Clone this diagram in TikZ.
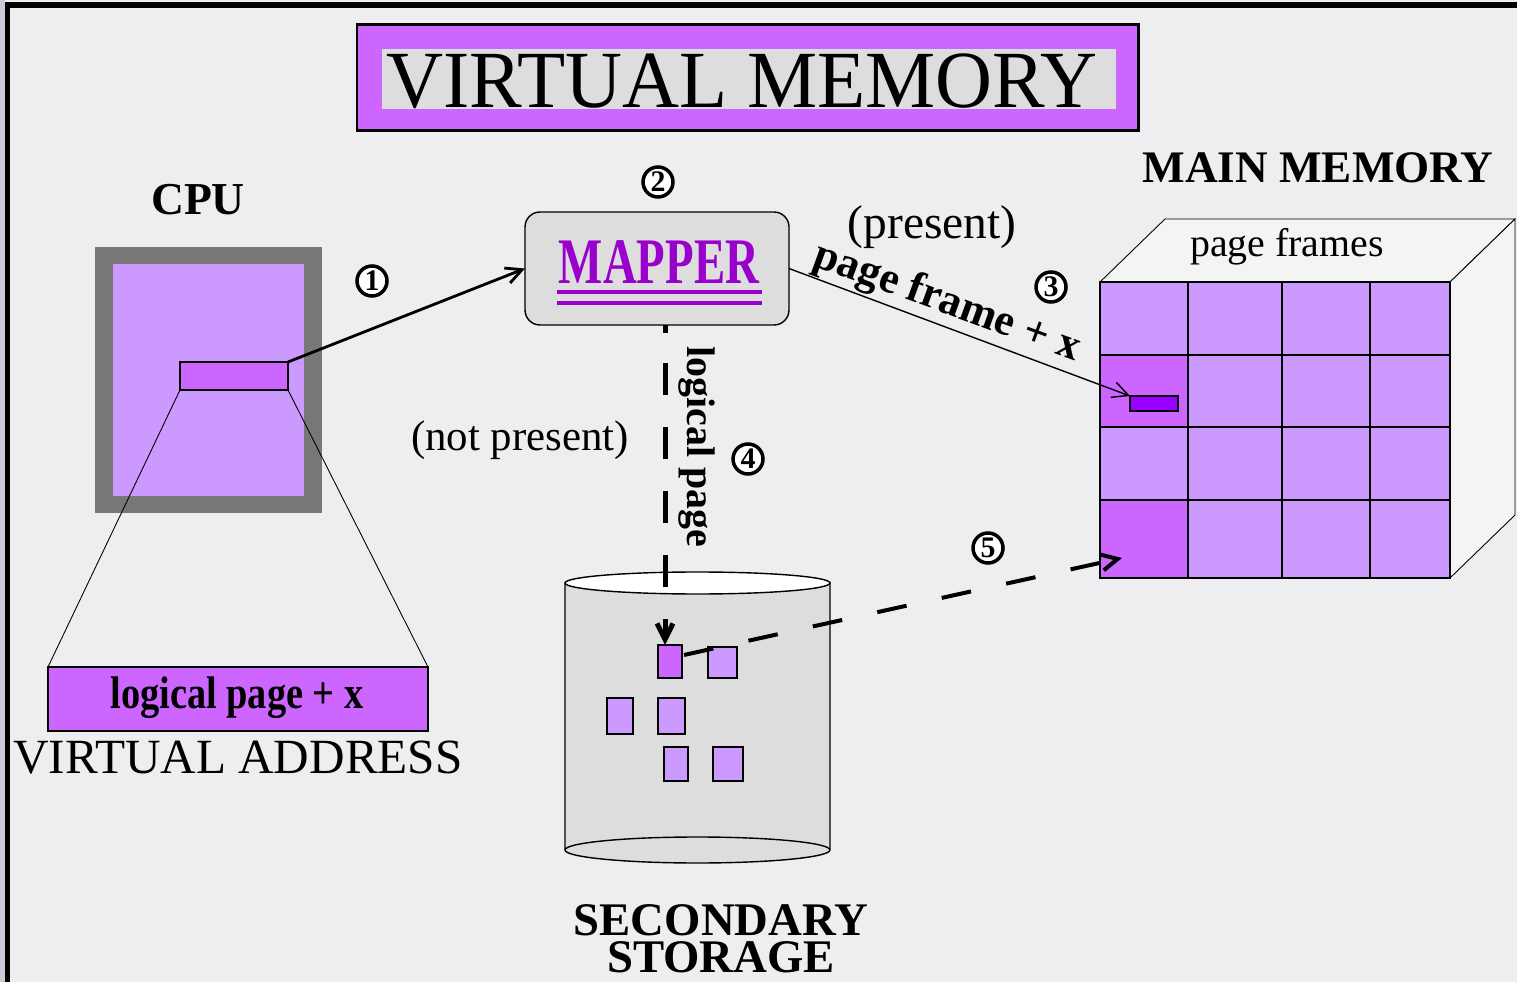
\documentclass[tikz,border=0pt]{standalone}
\usepackage{fontspec}
\usepackage{graphicx}
\setmainfont{Liberation Serif}
\usetikzlibrary{arrows.meta,fit,calc}
\definecolor{bg}{HTML}{EEEEF0}
\definecolor{pdark}{HTML}{CC66FF}
\definecolor{plight}{HTML}{CC99FF}
\definecolor{pdeep}{HTML}{9900FF}
\definecolor{ptext}{HTML}{9900CC}
\definecolor{boxgray}{HTML}{DDDDDD}
\definecolor{cpugray}{HTML}{777777}
\definecolor{sidebar}{HTML}{C8CCD8}
\definecolor{faceclr}{HTML}{F4F4F5}
\newcommand\myfs[1]{\fontsize{#1}{#1}\selectfont}
\tikzset{
  box/.style={inner sep=0pt, outer sep=0pt},
  num/.style={circle, draw, line width=2pt, fill=white, inner sep=0pt, minimum size=0.6cm, font=\bfseries\myfs{17}},
  arr/.style={-{Straight Barb[length=0.32cm,width=0.32cm]}},
  cell/.style={box, draw, line width=1pt, fill=plight},
  page/.style={box, draw, line width=1pt, fill=plight},
}
\begin{document}
\begin{tikzpicture}[x=0.02cm,y=-0.02cm]
\useasboundingbox (0,0) rectangle (1517,982);
\fill[bg] (0,0) rectangle (1517,982);
\fill[sidebar] (0,0) rectangle (5,982);
\fill[black] (5,2) rectangle (1517,8);
\fill[black] (5,2) rectangle (10,982);

% title
\node[box, fit={(357,25)(1138,131)}, draw, line width=1.7pt, fill=pdark] (titlebox) {};
\node[box, fit={(382,49)(1116,109)}, fill=boxgray] (titleband) {};
\node[font=\myfs{44}] (title) at (742,81) {\scalebox{1.02}[1.05]{VIRTUAL MEMORY}};

% CPU
\node[font=\bfseries\myfs{26}] (cpulabel) at (198,200) {CPU};
\node[box, fit={(95,247)(322,513)}, fill=cpugray] (cpu) {};
\node[box, fit={(113,264)(304,496)}, fill=plight] (cpuin) {};
\node[box, fit={(180,362)(288,390)}, fill=pdark, draw, line width=1pt] (reg) {};

% logical page + x
\node[box, fit={(48,667)(428,731)}, fill=pdark, draw, line width=1pt] (lpage) {};
\node[font=\bfseries\myfs{26}] (lpagetext) at (237,698) {\scalebox{0.84}[1]{logical page + x}};
\node[font=\myfs{28}] (vaddr) at (238,758) {VIRTUAL ADDRESS};
\draw[line width=0.5pt] (reg.south west) -- (lpage.north west);
\draw[line width=0.5pt] (reg.south east) -- (lpage.north east);

% mapper
\node[box, fit={(525,212)(789,325)}, fill=boxgray, draw, line width=0.8pt, rounded corners=0.3cm] (mapper) {};
\node[font=\bfseries\myfs{37}, text=ptext] (mappertext) at (659,262) {\scalebox{0.72}[1]{MAPPER}};
\draw[ptext, line width=0.08cm] (557,292) -- (762,292);
\draw[ptext, line width=0.08cm] (557,303) -- (762,303);

% numbers
\node[num] (n1) at (372,281) {1};
\node[num] (n2) at (658,182) {2};
\node[num] (n3) at (1051,287) {3};
\node[num] (n4) at (748,459) {4};
\node[num] (n5) at (988,548) {5};

% main memory
\node[font=\bfseries\myfs{25.7}] (mmlabel) at (1318,168) {MAIN MEMORY};
\filldraw[fill=faceclr, line width=0.5pt] (1100,282) -- (1165,219) -- (1515,219) -- (1450,282) -- cycle;
\filldraw[fill=faceclr, line width=0.5pt] (1450,282) -- (1515,219) -- (1515,515) -- (1450,578) -- cycle;
\node[font=\myfs{22.7}] (pframes) at (1287,247) {page frames};
\foreach \r/\ya/\yb in {1/282/355, 2/355/427, 3/427/500, 4/500/578} {
  \foreach \c/\xa/\xb in {1/1100/1188, 2/1188/1282, 3/1282/1370, 4/1370/1450} {
    \node[cell, fit={(\xa,\ya)(\xb,\yb)}] (c\r\c) {};
  }
}
\node[cell, fill=pdark, fit={(1100,355)(1188,427)}] (c21d) {};
\node[cell, fill=pdark, fit={(1100,500)(1188,578)}] (c41d) {};
\node[box, fit={(1130,396)(1178,411)}, fill=pdeep, draw, line width=1pt] (word) {};

% secondary storage
\filldraw[fill=boxgray, line width=0.8pt] (565,583) -- (565,850) arc[start angle=180, end angle=360, x radius=2.65cm, y radius=0.26cm] -- (830,583) -- cycle;
\draw[line width=0.8pt] (565,850) arc[start angle=180, end angle=0, x radius=2.65cm, y radius=0.26cm];
\filldraw[fill=white, line width=0.8pt] (697.5,583) ellipse[x radius=2.65cm, y radius=0.22cm];
\node[box, fit={(565,572)(830,863)}] (storage) {};
\node[page, fill=pdark, fit={(658,645)(682,678)}] (s1) {};
\node[page, fit={(708,647)(737,678)}] (s2) {};
\node[page, fit={(607,698)(633,734)}] (s3) {};
\node[page, fit={(658,698)(685,734)}] (s4) {};
\node[page, fit={(664,747)(688,781)}] (s5) {};
\node[page, fit={(713,747)(743,781)}] (s6) {};
\node[font=\bfseries\myfs{26.6}] (seclabel1) at (721,920) {SECONDARY};
\node[font=\bfseries\myfs{26.6}] (seclabel2) at (721,957) {STORAGE};

% texts
\node[font=\myfs{27}] (present) at (932,227) {(present)};
\node[font=\myfs{24.4}] (notpresent) at (520,440) {(not present)};
\node[font=\bfseries\myfs{22.7}, rotate=-90] (lplabel) at (697,447) {logical page};
\node[font=\bfseries\myfs{25}, rotate=-20] (pflabel) at (947,303) {page frame + x};

% connectors
\draw[arr, line width=1.6pt] (reg.north east) -- (mapper.west);
\draw[arr, line width=0.8pt] (mapper.east) -- (word.north west);
\coordinate (a4end) at ($(s1.north)+(-5,0)$);
\draw[line width=0.1cm] (a4end |- mapper.south) -- ++(0,8);
\draw[arr, line width=0.1cm, dash pattern=on 0.64cm off 0.64cm, dash phase=-0.06cm] ($(a4end |- mapper.south)+(0,35)$) -- (a4end);
\coordinate (a5start) at ($(s1.north east)+(2,10)$);
\coordinate (a5end) at ($(c41d.south west)+(22,-20)$);
\draw[arr, line width=0.08cm, dash pattern=on 0.6cm off 0.72cm] (a5start) -- (a5end);
\end{tikzpicture}
\end{document}
